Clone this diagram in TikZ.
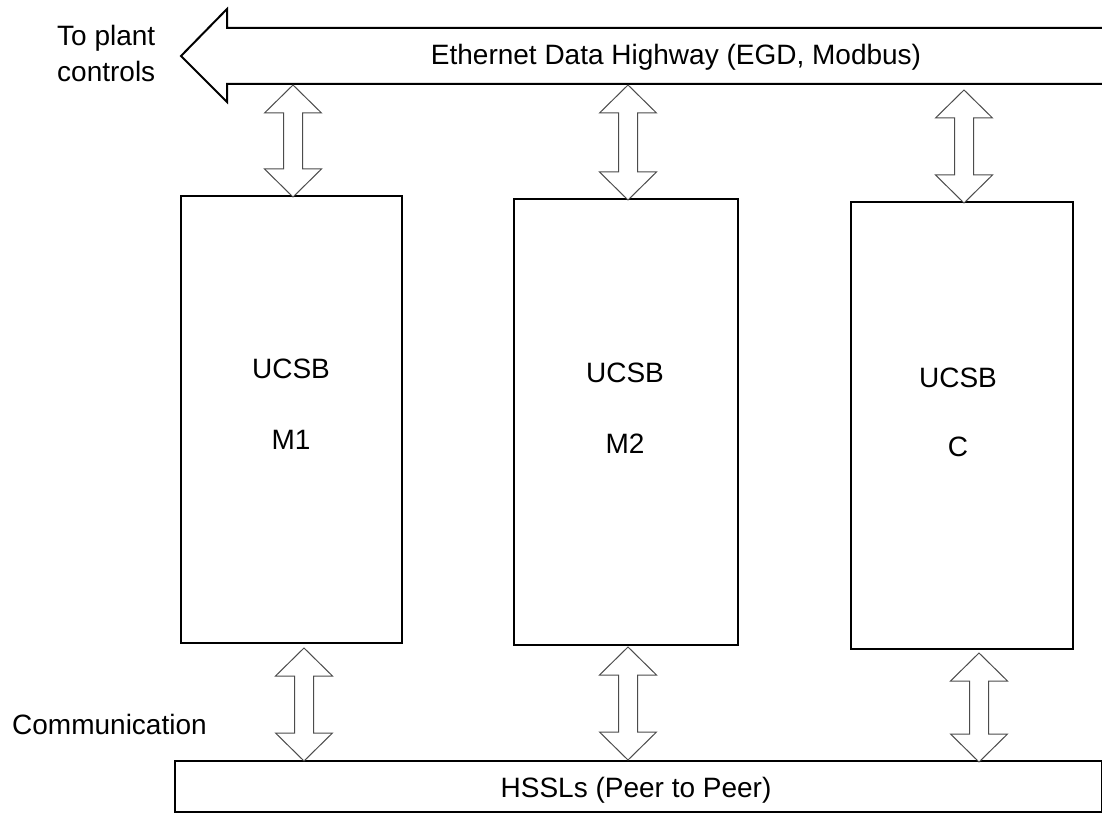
\documentclass[tikz,border=0pt]{standalone}
\usepackage{fontspec}
\setmainfont{Liberation Sans}
\usetikzlibrary{calc}
\tikzset{
  boxst/.style={draw=black, line width=2pt, fill=white, inner sep=0pt},
  bigarr/.style={draw=black, line width=2pt, fill=white, line join=miter},
  biarr/.style={draw=black!70, line width=1pt, fill=white, line join=miter},
  lbl/.style={inner sep=0pt, font=\fontsize{28}{34}\selectfont},
}
\newcommand\biarrow[2]{%
  \draw[biarr] let \p1=(#1), \p2=(#2) in
    (\x1,\y1) -- (\x1+28.5pt,\y1-28pt) -- (\x1+9.5pt,\y1-28pt)
    -- (\x1+9.5pt,\y2+28pt) -- (\x1+28.5pt,\y2+28pt) -- (\x1,\y2)
    -- (\x1-28.5pt,\y2+28pt) -- (\x1-9.5pt,\y2+28pt)
    -- (\x1-9.5pt,\y1-28pt) -- (\x1-28.5pt,\y1-28pt) -- cycle;}
\begin{document}
\begin{tikzpicture}[x=1pt,y=1pt]
\useasboundingbox[fill=white] (0,0) rectangle (1102,814);
% Ethernet data highway (big arrow)
\draw[bigarr] (1104,786) -- (227,786) -- (227,805) -- (181,758) -- (227,712) -- (227,730) -- (1104,730);
\node[lbl, anchor=base] (eth) at (676,749) {Ethernet Data Highway (EGD, Modbus)};
\node[lbl, anchor=base west] (plant1) at (57,768) {To plant};
\node[lbl, anchor=base west] (plant2) at (57,732) {controls};
% boards
\node[boxst, anchor=south west, minimum width=221pt, minimum height=447pt] (m1) at (180,170) {};
\node[boxst, anchor=south west, minimum width=224pt, minimum height=446pt] (m2) at (513,168) {};
\node[boxst, anchor=south west, minimum width=222pt, minimum height=447pt] (c) at (850,164) {};
\node[lbl, anchor=base] (m1a) at (291,435) {UCSB};
\node[lbl, anchor=base] (m1b) at (291,364) {M1};
\node[lbl, anchor=base] (m2a) at (625,431) {UCSB};
\node[lbl, anchor=base] (m2b) at (625,360) {M2};
\node[lbl, anchor=base] (ca) at (958,426) {UCSB};
\node[lbl, anchor=base] (cb) at (958,357) {C};
% HSSL bar
\node[boxst, anchor=south west, minimum width=927pt, minimum height=51pt] (hssl) at (174,1) {};
\node[lbl, anchor=base] (hsslt) at (636,17) {HSSLs (Peer to Peer)};
\node[lbl, anchor=base west] (comm) at (12,80) {Communication};
% connector end points
\coordinate (t1) at (293,729); \coordinate (u1) at (293,617);
\coordinate (t2) at (628,729); \coordinate (u2) at (628,614);
\coordinate (t3) at (964,724); \coordinate (u3) at (964,611);
\coordinate (d1) at (304,166); \coordinate (e1) at (304,53);
\coordinate (d2) at (628,167); \coordinate (e2) at (628,54);
\coordinate (d3) at (979,161); \coordinate (e3) at (979,52);
\biarrow{t1}{u1}
\biarrow{t2}{u2}
\biarrow{t3}{u3}
\biarrow{d1}{e1}
\biarrow{d2}{e2}
\biarrow{d3}{e3}
\end{tikzpicture}
\end{document}
